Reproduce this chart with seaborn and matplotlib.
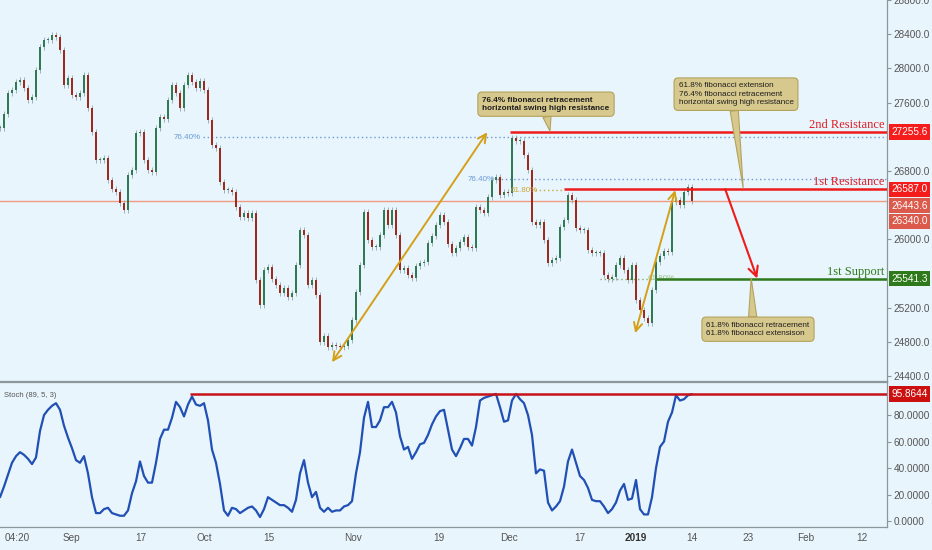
import numpy as np
import pandas as pd
import matplotlib
matplotlib.use("Agg")
import matplotlib.pyplot as plt
import seaborn as sns

# closing prices, one bar per step on the x axis
closes = [27300, 27464, 27710, 27745, 27838, 27862, 27768, 27628, 27663, 27979,
          28248, 28330, 28330, 28388, 28365, 28213, 27803, 27885, 27686, 27663,
          27710, 27920, 27534, 27253, 26926, 26926, 26949, 26692, 26586, 26551,
          26423, 26341, 26750, 26809, 27242, 27253, 26926, 26809, 26785, 27300,
          27429, 27405, 27628, 27803, 27710, 27534, 27803, 27920, 27838, 27768,
          27850, 27745, 27394, 27101, 27066, 26668, 26575, 26575, 26551, 26376,
          26259, 26306, 26247, 26306, 25522, 25229, 25639, 25674, 25533, 25463,
          25370, 25428, 25323, 25370, 25697, 26107, 26048, 25463, 25522, 25346,
          24796, 24867, 24738, 24761, 24750, 24738, 24750, 24820, 25054, 25381,
          25697, 26317, 25990, 25908, 25908, 26048, 26341, 26165, 26341, 26048,
          25639, 25662, 25580, 25545, 25686, 25721, 25732, 25955, 26037, 26165,
          26282, 26200, 25943, 25838, 25896, 25966, 26025, 25908, 25896, 26376,
          26341, 26306, 26493, 26692, 26727, 26516, 26551, 26540, 27183, 27148,
          27148, 26984, 26809, 26200, 26165, 26200, 25990, 25721, 25756, 25779,
          26142, 26224, 26516, 26458, 26130, 26107, 26107, 25873, 25838, 25838,
          25838, 25580, 25533, 25557, 25697, 25779, 25639, 25522, 25697, 25288,
          25171, 25077, 25019, 25405, 25732, 25803, 25861, 25850, 26434, 26458,
          26399, 26551, 26610, 26443.6]

# Stoch (89, 5, 3) %K, same bars
stoch = [18, 26, 35, 44, 49, 52, 50, 47, 43, 48,
         68, 80, 84, 87, 89, 84, 72, 63, 55, 46,
         44, 49, 36, 18, 6, 6, 9, 10, 6, 5,
         4, 4, 8, 21, 30, 45, 34, 29, 29, 44,
         62, 69, 69, 78, 90, 86, 79, 88, 94, 88,
         87, 89, 76, 54, 44, 28, 8, 4, 10, 9,
         6, 8, 10, 11, 8, 3, 9, 18, 16, 14,
         12, 12, 10, 7, 16, 36, 46, 29, 18, 22,
         10, 7, 10, 7, 8, 8, 11, 12, 15, 36,
         52, 78, 90, 71, 71, 76, 86, 86, 90, 82,
         64, 54, 56, 47, 52, 58, 59, 65, 73, 79,
         83, 84, 69, 54, 49, 55, 62, 62, 57, 71,
         91, 93, 94, 95, 96, 86, 75, 76, 91, 96,
         92, 89, 80, 65, 36, 39, 38, 14, 8, 11,
         15, 26, 45, 54, 44, 34, 31, 25, 16, 15,
         15, 11, 6, 9, 14, 23, 28, 16, 17, 31,
         9, 5, 5, 18, 40, 56, 60, 75, 82, 95,
         91, 92, 95, 95.8644]

tick_labels = ["04:20", "Sep", "17", "Oct", "15", "Nov", "19", "Dec", "17",
               "2019", "14", "23", "Feb", "12"]
tick_bars = [4.2, 17.8, 35.2, 51.2, 67.2, 88.2, 109.8, 127.2, 145.0,
             159.0, 173.0, 187.0, 201.5, 215.5]

# price scale labels that are not hidden behind a price tag
price_ticks = [24400, 24800, 25200, 26000, 26800, 27600, 28000, 28400, 28800]
stoch_ticks = [0, 20, 40, 60, 80]

res2 = 27255.6
res1 = 26587.0
sup1 = 25541.3
last_price = 26443.6
prev_close = 26340.0
stoch_level = 95.8644
fib_a = 27195   # 76.40% (first swing)
fib_b = 26703   # 76.40% (second swing)
fib_c = 26575   # 61.80% gold

BG = "#e9f5fc"
GREEN = "#2f7a50"
RED = "#9e2a1e"
LINE_RED = "#ee1b1b"
SUP_GREEN = "#2f7a1c"
GOLD = "#d4a017"
BOX = "#d7c98d"
BOX_EDGE = "#b3a25c"
AXIS_GREY = "#8c979c"

sns.set_style("white", rc={"axes.facecolor": BG, "figure.facecolor": BG})
plt.rcParams["font.family"] = ["Liberation Sans", "DejaVu Sans"]

fig = plt.figure(figsize=(9.32, 5.5), dpi=100)
ax = fig.add_axes([0, 169 / 550, 887 / 932, 381 / 550])
ax2 = fig.add_axes([0, 23 / 550, 887 / 932, 145 / 550], sharex=ax)

# ---- candles
df = pd.DataFrame({"close": closes})
df["open"] = df["close"].shift(1).fillna(df["close"])
df["bar"] = np.arange(len(df))
lo = df[["open", "close"]].min(axis=1)
hi = df[["open", "close"]].max(axis=1)
colors = np.where(df["close"] >= df["open"], GREEN, RED)
ax.vlines(df["bar"], lo - 35, hi + 35, color="#95a3aa", lw=0.6, zorder=2)
ax.bar(df["bar"], (hi - lo).clip(lower=10), bottom=lo, width=0.55,
       color=colors, linewidth=0, zorder=3)

xmax = 221.75
ax.set_xlim(0, xmax)
ax.set_ylim(24342, 28798)

# current price line
ax.axhline(last_price, color="#f09a86", lw=1.0, zorder=1)

# fib dotted levels
dot = (0, (1, 2))
ax.hlines(fib_a, 50.8, xmax, color="#6a9ad8", lw=1, ls=dot, zorder=1)
ax.text(50.2, fib_a, "76.40%", color="#6a9ad8", fontsize=5.8, ha="right", va="center")
ax.hlines(fib_b, 124.3, xmax, color="#6a9ad8", lw=1, ls=dot, zorder=1)
ax.text(123.7, fib_b, "76.40%", color="#6a9ad8", fontsize=5.8, ha="right", va="center")
ax.hlines(fib_c, 133.8, 140.8, color="#c9a53a", lw=1, ls=dot, zorder=1)
ax.text(127.6, fib_c, "61.80%", color="#c9a53a", fontsize=5.8, ha="left", va="center")
ax.hlines(sup1, 150, xmax, color="#7fae6a", lw=1, ls=dot, zorder=1)
ax.text(162, sup1, "61.80%", color="#9cc48a", fontsize=5.8, ha="left", va="center")

# support / resistance lines
ax.hlines(res2, 127.5, xmax, color=LINE_RED, lw=1.8, zorder=4)
ax.hlines(res1, 141, xmax, color=LINE_RED, lw=1.8, zorder=4)
ax.hlines(sup1, 164, xmax, color=SUP_GREEN, lw=1.8, zorder=4)

ytf = ax.get_yaxis_transform()
lab_kw = dict(fontsize=9, ha="right", va="bottom", family=["Liberation Serif", "DejaVu Serif"])
ax.text(0.997, res2 + 10, "2nd Resistance", color="#e01b24", transform=ytf, **lab_kw)
ax.text(0.997, res1 + 10, "1st Resistance", color="#e01b24", transform=ytf, **lab_kw)
ax.text(0.997, sup1 + 10, "1st Support", color=SUP_GREEN, transform=ytf, **lab_kw)

# arrows
ax.annotate("", xy=(121.8, 27253), xytext=(83, 24562),
            arrowprops=dict(arrowstyle="<->,head_length=0.6,head_width=0.3",
                            color=GOLD, lw=1.4, shrinkA=0, shrinkB=0), zorder=5)
ax.annotate("", xy=(168.8, 26575), xytext=(158.8, 24902),
            arrowprops=dict(arrowstyle="<->,head_length=0.6,head_width=0.3",
                            color=GOLD, lw=1.4, shrinkA=0, shrinkB=0), zorder=5)
ax.annotate("", xy=(189.3, 25541), xytext=(181.3, 26587),
            arrowprops=dict(arrowstyle="->,head_length=0.7,head_width=0.35",
                            color=LINE_RED, lw=1.5, shrinkA=0, shrinkB=0), zorder=5)

# callouts
box_kw = dict(boxstyle="round,pad=0.55,rounding_size=0.5", fc=BOX, ec=BOX_EDGE, lw=0.8)
narrow = ["Liberation Sans Narrow", "Liberation Sans", "DejaVu Sans"]


def callout(text, xy, xytext, relpos, bold=False):
    ax.annotate(text, xy=xy, xytext=xytext, ha="center", va="center",
                multialignment="left", fontsize=5.9, color="#1e1e1e",
                family=narrow, fontweight="bold" if bold else "normal",
                linespacing=1.25, bbox=box_kw, zorder=7,
                arrowprops=dict(arrowstyle="wedge,tail_width=1.0,shrink_factor=0.5",
                                fc=BOX, ec=BOX_EDGE, lw=0.8, relpos=relpos,
                                shrinkA=0, shrinkB=0))


callout("76.4% fibonacci retracement\nhorizontal swing high resistance",
        (137.5, 27265), (136.5, 27581), (0.5, 0), bold=True)
callout("61.8% fibonacci extension\n76.4% fibonacci retracement\nhorizontal swing high resistance",
        (185.8, 26598), (184, 27698), (0.48, 0))
callout("61.8% fibonacci retracement\n61.8% fibonacci extensison",
        (187.8, 25545), (189.5, 24948), (0.45, 1))

# ---- stochastic panel
sns.lineplot(x=np.arange(len(stoch)), y=stoch, ax=ax2, color="#2150b4", lw=1.6)
ax2.hlines(stoch_level, 47.5, xmax, color="#c8121a", lw=1.8, zorder=4)
ax2.set_ylim(-4.5, 105)
ax2.text(0.005, 0.91, "Stoch (89, 5, 3)", transform=ax2.transAxes, fontsize=5.5,
         color="#555555", va="center", ha="left")

# ---- axes styling
for a in (ax, ax2):
    a.yaxis.tick_right()
    a.tick_params(axis="y", length=3, color=AXIS_GREY, labelsize=7.2,
                  labelcolor="#555555", pad=1.5)
    a.spines["left"].set_visible(False)
    for s in ("right", "bottom", "top"):
        a.spines[s].set_color(AXIS_GREY)
        a.spines[s].set_linewidth(0.9)
    a.grid(False)
ax.spines["top"].set_visible(False)

ax.set_yticks(price_ticks)
ax.set_yticklabels([f"{v:.1f}" for v in price_ticks])
ax.tick_params(axis="x", bottom=False, labelbottom=False)

ax2.set_yticks(stoch_ticks)
ax2.set_yticklabels([f"{v:.4f}" for v in stoch_ticks])
ax2.set_xticks(tick_bars)
ax2.set_xticklabels(tick_labels)
ax2.tick_params(axis="x", length=3, color=AXIS_GREY, labelsize=7.2,
                labelcolor="#555555", pad=1.5)
for t in ax2.get_xticklabels():
    if t.get_text() == "2019":
        t.set_fontweight("bold")
        t.set_color("#333333")
ax2.set_xlabel("")
ax2.set_ylabel("")

# ---- price tags on the right scale


def tag(a, y, s, color, dy=0):
    a.annotate(s, xy=(1, y), xycoords=a.get_yaxis_transform(), xytext=(3.0, dy),
               textcoords="offset points", ha="left", va="center", fontsize=7.2,
               color="white", bbox=dict(boxstyle="square,pad=0.26", fc=color, ec="none"),
               annotation_clip=False, zorder=8)


tag(ax, res2, "27255.6", "#f51c1c")
tag(ax, res1, "26587.0", "#f51c1c")
tag(ax, last_price, "26443.6", "#dc5a4b", dy=-3.0)
tag(ax, prev_close, "26340.0", "#dc5a4b", dy=-8.0)
tag(ax, sup1, "25541.3", "#2e7a1a")
tag(ax2, stoch_level, "95.8644", "#cc1010")

fig.savefig("out.png", dpi=100, facecolor=BG)
